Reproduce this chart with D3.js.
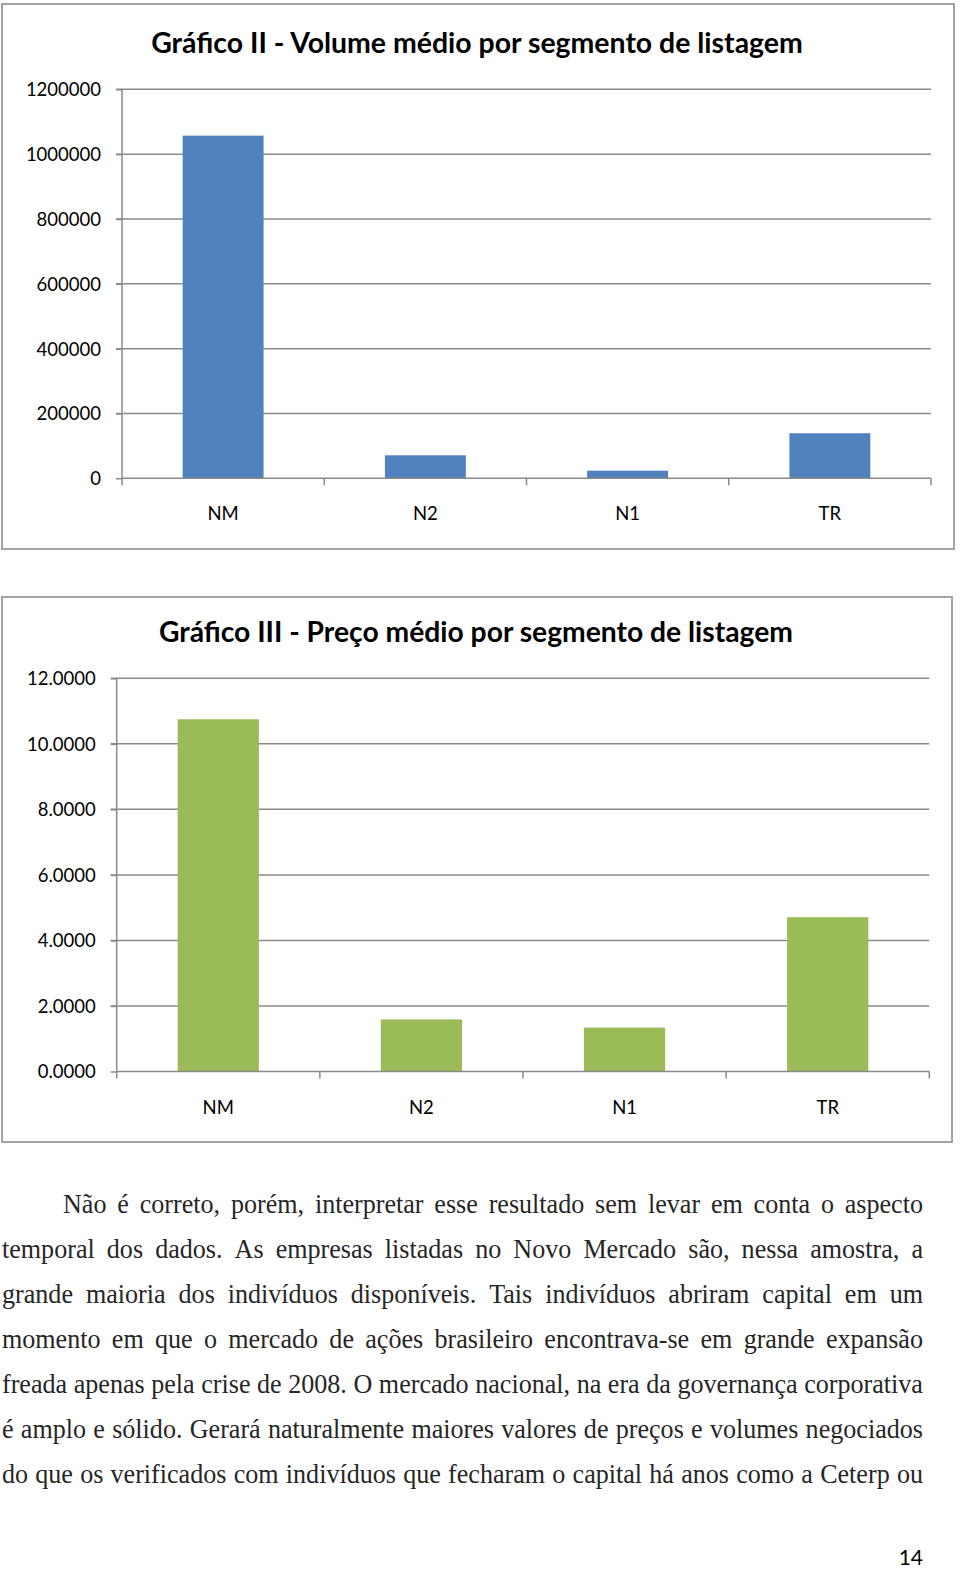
<!DOCTYPE html>
<html><head><meta charset="utf-8">
<script src="https://cdn.jsdelivr.net/npm/d3@7"></script>
<style>body{margin:0;background:#fff}svg{display:block}</style>
</head><body>
<svg id="page" width="960" height="1569"></svg>
<script>
const categories = ["NM","N2","N1","TR"];
const volumeValues = [1057000, 71000, 23500, 139000];
const priceValues = [10.75, 1.59, 1.34, 4.71];
const volumeTicks = [0,200000,400000,600000,800000,1000000,1200000];
const priceTicks = [0,2,4,6,8,10,12];
const titleII = "Gráfico II - Volume médio por segmento de listagem";
const titleIII = "Gráfico III - Preço médio por segmento de listagem";
const paragraphLines = [
 "Não é correto, porém, interpretar esse resultado sem levar em conta o aspecto",
 "temporal dos dados. As empresas listadas no Novo Mercado são, nessa amostra, a",
 "grande maioria dos indivíduos disponíveis. Tais indivíduos abriram capital em um",
 "momento em que o mercado de ações brasileiro encontrava-se em grande expansão",
 "freada apenas pela crise de 2008. O mercado nacional, na era da governança corporativa",
 "é amplo e sólido. Gerará naturalmente maiores valores de preços e volumes negociados",
 "do que os verificados com indivíduos que fecharam o capital há anos como a Ceterp ou"
];
const pageNumber = "14";

const svg = d3.select("#page");
const sans = "Lato, 'Open Sans', sans-serif";
const gridColor = "#8a8a8a";

function fitText(sel, targetWidth, baseSize){
  const w = sel.node().getComputedTextLength();
  sel.attr("font-size", baseSize * targetWidth / w);
}

function drawChart(cfg){
  const g = svg.append("g");
  g.append("rect").attr("x",cfg.box[0]).attr("y",cfg.box[1])
    .attr("width",cfg.box[2]-cfg.box[0]).attr("height",cfg.box[3]-cfg.box[1])
    .attr("fill","#fff").attr("stroke","#a3a3a3").attr("stroke-width",2);
  const t = g.append("text").attr("x",(cfg.titleX[0]+cfg.titleX[1])/2).attr("y",cfg.titleY)
    .attr("text-anchor","middle").attr("font-family",sans).attr("font-weight","bold")
    .attr("font-size",26).attr("fill","#000").text(cfg.title);
  fitText(t, cfg.titleX[1]-cfg.titleX[0], 26);

  const y = d3.scaleLinear().domain([0, d3.max(cfg.ticks)]).range([cfg.plot.bottom, cfg.plot.top]);
  const x = d3.scaleBand().domain(categories).range([cfg.plot.left, cfg.plot.right])
    .paddingInner(0.6).paddingOuter(0.3);
  g.selectAll(".grid").data(cfg.ticks.filter(d=>d>0)).join("line")
    .attr("x1",cfg.plot.left-6).attr("x2",cfg.plot.right)
    .attr("y1",d=>y(d)).attr("y2",d=>y(d))
    .attr("stroke",gridColor).attr("stroke-width",1.5);
  g.selectAll(".bar").data(cfg.values).join("rect")
    .attr("x",(d,i)=>x(categories[i])).attr("width",x.bandwidth())
    .attr("y",d=>y(d)).attr("height",d=>y(0)-y(d)).attr("fill",cfg.color);
  const ya = d3.axisLeft(y).tickValues(cfg.ticks).tickSize(6).tickFormat(cfg.fmt).tickPadding(15);
  const yg = g.append("g").attr("transform",`translate(${cfg.plot.left},0)`).call(ya);
  yg.select(".domain").attr("stroke",gridColor).attr("stroke-width",1.5).attr("d",`M0,${y(d3.max(cfg.ticks))}V${y(0)}`);
  yg.selectAll(".tick line").attr("stroke",gridColor).attr("stroke-width",1.5);
  yg.selectAll(".tick text").attr("font-family",sans).attr("font-size",18.5).attr("fill","#000").attr("dy","0.35em");
  const step = x.step();
  const bounds = d3.range(categories.length+1).map(i=>cfg.plot.left + i*step);
  g.append("line").attr("x1",cfg.plot.left).attr("x2",cfg.plot.right)
    .attr("y1",y(0)).attr("y2",y(0)).attr("stroke",gridColor).attr("stroke-width",1.5);
  g.selectAll(".xt").data(bounds).join("line")
    .attr("x1",d=>d).attr("x2",d=>d).attr("y1",y(0)).attr("y2",y(0)+7)
    .attr("stroke",gridColor).attr("stroke-width",1.5);
  g.selectAll(".xl").data(categories).join("text")
    .attr("x",d=>x(d)+x.bandwidth()/2).attr("y",y(0)+42)
    .attr("text-anchor","middle").attr("font-family",sans).attr("font-size",18.5)
    .attr("fill","#000").text(d=>d);
}

drawChart({box:[2,4,954,549], title:titleII, titleX:[151,803], titleY:53,
  plot:{left:122,right:931,top:89.3,bottom:478.3}, ticks:volumeTicks, values:volumeValues,
  color:"#4f81bd", fmt:d3.format("d")});
drawChart({box:[2,597,952,1142], title:titleIII, titleX:[159,793], titleY:642,
  plot:{left:116.7,right:929.3,top:678.3,bottom:1071.5}, ticks:priceTicks, values:priceValues,
  color:"#9bbb59", fmt:d=>d.toFixed(4)});

// paragraph, justified; font size fitted so the longest line has normal spacing
const serif = "'Liberation Serif', 'Times New Roman', serif";
const pg = svg.append("g").attr("font-family",serif).attr("fill","#262626");
const probe = pg.append("text").attr("font-size",100).attr("xml:space","preserve").text(paragraphLines[4]);
const fs = 100 * 921 / probe.node().getComputedTextLength();
probe.remove();
pg.attr("font-size", fs);
const vScale = 1.06;
paragraphLines.forEach((line,li)=>{
  const left = li===0 ? 63 : 2, right = 923;
  const base = 1213 + li*45;
  const words = line.split(" ");
  const nodes = words.map(w=>pg.append("text").text(w));
  const widths = nodes.map(n=>n.node().getComputedTextLength());
  const total = d3.sum(widths);
  const gap = (right-left-total)/(words.length-1);
  let cx = left;
  nodes.forEach((n,i)=>{ n.attr("transform",`translate(${cx},${base}) scale(1,${vScale})`); cx += widths[i]+gap; });
});
svg.append("text").attr("x",923).attr("y",1565).attr("text-anchor","end")
  .attr("font-family",sans).attr("font-size",21).attr("fill","#000").text(pageNumber);
</script>
</body></html>
